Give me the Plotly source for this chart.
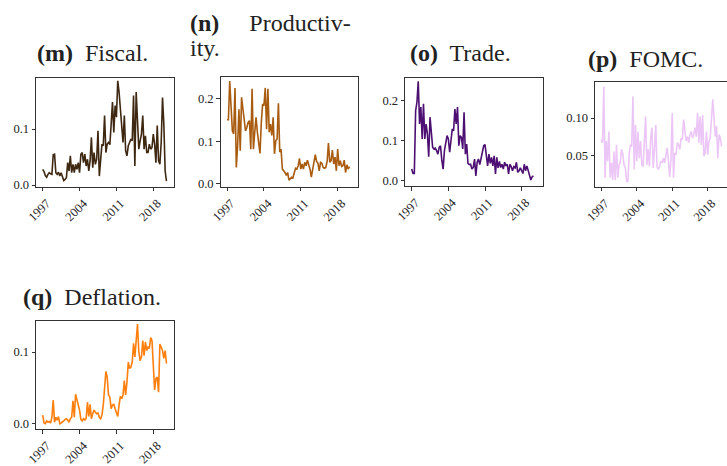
import plotly.graph_objects as go

W, H = 727, 466

fiscal = [0.028, 0.024, 0.017, 0.014, 0.019, 0.022, 0.020, 0.019, 0.054, 0.055,
          0.022, 0.019, 0.023, 0.016, 0.022, 0.013, 0.008, 0.010, 0.013, 0.040,
          0.025, 0.052, 0.022, 0.037, 0.022, 0.037, 0.028, 0.040, 0.022, 0.055,
          0.058, 0.040, 0.055, 0.034, 0.046, 0.025, 0.043, 0.085, 0.031, 0.058,
          0.037, 0.046, 0.097, 0.016, 0.043, 0.073, 0.070, 0.124, 0.058, 0.073,
          0.076, 0.072, 0.109, 0.148, 0.094, 0.142, 0.121, 0.186, 0.166, 0.130,
          0.094, 0.076, 0.124, 0.061, 0.052, 0.070, 0.076, 0.082, 0.079, 0.160,
          0.034, 0.166, 0.115, 0.064, 0.079, 0.091, 0.124, 0.064, 0.088, 0.058,
          0.058, 0.073, 0.064, 0.067, 0.091, 0.073, 0.040, 0.106, 0.043, 0.037,
          0.076, 0.156, 0.109, 0.025, 0.007]

productivity = [0.151, 0.151, 0.242, 0.180, 0.125, 0.118, 0.226, 0.039, 0.090, 0.176,
                0.078, 0.204, 0.173, 0.141, 0.125, 0.133, 0.145, 0.149, 0.082, 0.224,
                0.082, 0.122, 0.157, 0.122, 0.098, 0.072, 0.145, 0.188, 0.184, 0.226,
                0.129, 0.224, 0.122, 0.141, 0.114, 0.157, 0.071, 0.102, 0.106, 0.190,
                0.075, 0.082, 0.035, 0.031, 0.027, 0.020, 0.027, 0.009, 0.014, 0.016,
                0.014, 0.027, 0.037, 0.035, 0.043, 0.060, 0.035, 0.047, 0.035, 0.051,
                0.043, 0.056, 0.047, 0.035, 0.016, 0.035, 0.047, 0.069, 0.053, 0.049,
                0.031, 0.051, 0.049, 0.039, 0.037, 0.039, 0.053, 0.096, 0.051, 0.055,
                0.080, 0.047, 0.063, 0.031, 0.082, 0.043, 0.055, 0.041, 0.043, 0.056,
                0.027, 0.045, 0.035, 0.041]

trade = [0.029, 0.018, 0.018, 0.174, 0.195, 0.247, 0.141, 0.183, 0.104, 0.191,
         0.104, 0.141, 0.116, 0.060, 0.158, 0.124, 0.083, 0.079, 0.081, 0.075,
         0.066, 0.083, 0.087, 0.051, 0.029, 0.075, 0.091, 0.112, 0.104, 0.071,
         0.100, 0.129, 0.124, 0.178, 0.141, 0.183, 0.087, 0.112, 0.108, 0.079,
         0.170, 0.066, 0.091, 0.043, 0.040, 0.041, 0.029, 0.033, 0.054, 0.012,
         0.046, 0.054, 0.040, 0.054, 0.071, 0.087, 0.090, 0.062, 0.037, 0.066,
         0.043, 0.058, 0.037, 0.062, 0.017, 0.058, 0.032, 0.048, 0.033, 0.041,
         0.029, 0.046, 0.037, 0.041, 0.017, 0.041, 0.035, 0.025, 0.035, 0.032,
         0.046, 0.021, 0.025, 0.032, 0.025, 0.018, 0.041, 0.025, 0.037, 0.023,
         0.008, 0.002, 0.010, 0.012]

fomc = [0.071, 0.067, 0.142, 0.020, 0.069, 0.042, 0.082, 0.020, 0.040, 0.017,
        0.055, 0.017, 0.064, 0.020, 0.037, 0.040, 0.058, 0.052, 0.037, 0.033,
        0.015, 0.015, 0.051, 0.064, 0.062, 0.129, 0.031, 0.091, 0.042, 0.082,
        0.046, 0.069, 0.037, 0.035, 0.069, 0.102, 0.037, 0.058, 0.035, 0.073,
        0.087, 0.033, 0.058, 0.091, 0.035, 0.031, 0.035, 0.042, 0.040, 0.046,
        0.040, 0.051, 0.060, 0.042, 0.021, 0.044, 0.107, 0.020, 0.053, 0.051,
        0.067, 0.064, 0.058, 0.073, 0.071, 0.098, 0.080, 0.069, 0.075, 0.067,
        0.078, 0.082, 0.073, 0.078, 0.087, 0.075, 0.107, 0.067, 0.102, 0.064,
        0.104, 0.049, 0.053, 0.082, 0.051, 0.069, 0.073, 0.100, 0.125, 0.100,
        0.075, 0.089, 0.046, 0.078, 0.073, 0.062]

deflation = [0.012, 0.001, 0.000, 0.004, 0.002, 0.003, 0.001, 0.009, 0.033, 0.002,
             0.009, 0.005, 0.010, 0.000, 0.001, 0.002, 0.004, 0.006, 0.007, 0.005,
             0.002, 0.007, 0.009, 0.032, 0.009, 0.041, 0.035, 0.026, 0.019, 0.006,
             0.004, 0.007, 0.005, 0.007, 0.030, 0.010, 0.027, 0.007, 0.014, 0.019,
             0.016, 0.014, 0.015, 0.009, 0.007, 0.012, 0.026, 0.049, 0.073, 0.065,
             0.040, 0.037, 0.021, 0.026, 0.027, 0.021, 0.014, 0.010, 0.026, 0.038,
             0.035, 0.040, 0.060, 0.040, 0.058, 0.086, 0.077, 0.079, 0.086, 0.112,
             0.093, 0.116, 0.139, 0.100, 0.088, 0.093, 0.116, 0.095, 0.114, 0.102,
             0.107, 0.105, 0.120, 0.116, 0.088, 0.047, 0.063, 0.065, 0.044, 0.111,
             0.107, 0.102, 0.091, 0.102, 0.084]

year_ticks = [1997, 2004, 2011, 2018]
start_year = 1997.0
step = 0.25


def xs(n):
    return [start_year + i * step for i in range(n)]


panels = [
    (fiscal, "#3e2812", (36, 174), (77.7, 186.7), (1995.73, 2021.93), (-0.003, 0.1916), 0.1, ".1f", True),
    (productivity, "#a95b0f", (220.5, 358.3), (77.3, 186.7), (1995.75, 2021.92), (-0.0064, 0.251), 0.1, ".1f", True),
    (trade, "#4c0f72", (405, 542.5), (77.7, 186.0), (1995.72, 2021.98), (-0.013, 0.256), 0.1, ".1f", True),
    (fomc, "#ecc6f6", (595, 727), (81.7, 186.7), (1995.76, 2021.81), (0.0079, 0.1487), 0.05, ".2f", False),
    (deflation, "#ff7f0e", (36, 174), (320.7, 429.0), (1995.73, 2021.93), (-0.0074, 0.1437), 0.1, ".1f", True),
]

fig = go.Figure()
TFONT = "Liberation Serif, DejaVu Serif, serif"
layout = dict(
    width=W, height=H, margin=dict(l=0, r=0, t=0, b=0, autoexpand=False),
    paper_bgcolor="white", plot_bgcolor="white", showlegend=False,
    font=dict(family=TFONT, size=12, color="#222"),
)

for i, (data, color, xb, yb, xr, yr, dt, fmt, mir) in enumerate(panels):
    k = "" if i == 0 else str(i + 1)
    fig.add_trace(go.Scatter(x=xs(len(data)), y=data, mode="lines",
                             line=dict(color=color, width=1.6),
                             xaxis="x" + k, yaxis="y" + k, hoverinfo="skip"))
    layout["xaxis" + k] = dict(
        domain=[xb[0] / W, min(xb[1] / W, 1.0)], anchor="y" + k, range=list(xr),
        tickvals=year_ticks, tickangle=-45, ticks="outside", ticklen=3.5, tickwidth=1,
        ticklabelshift=4, ticklabelstandoff=0,
        tickcolor="#333", showline=True, linecolor="#333", linewidth=1, mirror=True,
        showgrid=False, zeroline=False, tickfont=dict(family=TFONT, size=12.5, color="#222"),
    )
    layout["yaxis" + k] = dict(
        domain=[1 - yb[1] / H, 1 - yb[0] / H], anchor="x" + k, range=list(yr),
        dtick=dt, tick0=0, tickformat=fmt, ticks="outside", ticklen=3.5, tickwidth=1,
        tickcolor="#333", showline=True, linecolor="#333", linewidth=1, mirror=mir,
        showgrid=False, zeroline=False, tickfont=dict(family=TFONT, size=12.5, color="#222"),
    )

fig.update_layout(**layout)

titles = [
    ("<b>(m)</b>  Fiscal.", 92.5, 53, "center"),
    ("<b>(n)</b>     Productiv-", 189, 23, "left"),
    ("ity.", 189, 48, "left"),
    ("<b>(o)</b>  Trade.", 461, 53, "center"),
    ("<b>(p)</b>  FOMC.", 645, 59, "center"),
    ("<b>(q)</b>  Deflation.", 92.5, 297, "center"),
]
for txt, px, py, anc in titles:
    fig.add_annotation(text=txt, x=px / W, y=1 - py / H, xref="paper", yref="paper",
                       xanchor=anc, yanchor="middle", showarrow=False, borderpad=0,
                       font=dict(family=TFONT, size=24, color="#222"))

fig.write_html("out.html")
